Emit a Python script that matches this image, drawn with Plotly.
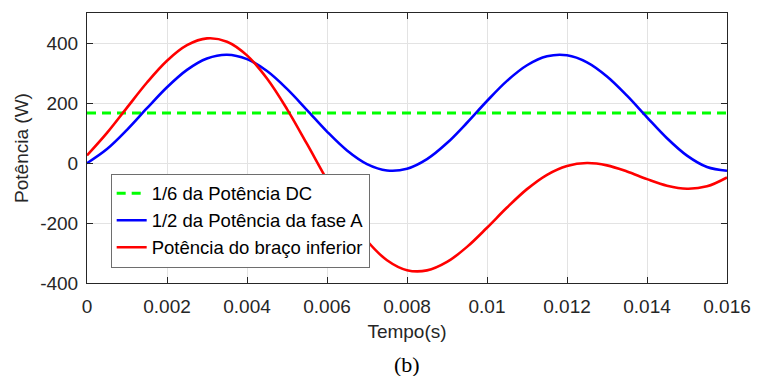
import plotly.graph_objects as go

# ---- data ----
time_s = [0.0, 0.0005, 0.001, 0.0015, 0.002, 0.0025, 0.003, 0.0035, 0.004, 0.0045,
          0.005, 0.0055, 0.006, 0.0065, 0.007, 0.0075, 0.008, 0.0085, 0.009, 0.0095,
          0.01, 0.0105, 0.011, 0.0115, 0.012, 0.0125, 0.013, 0.0135, 0.014, 0.0145,
          0.015, 0.0155, 0.016]

half_phase_power = [-0.6, 46.5, 110.6, 182.7, 252.6, 310.6, 348.5, 361.0, 346.3, 306.5,
                    247.1, 176.6, 104.8, 41.8, -3.5, -24.8, -19.2, 12.8, 66.4, 134.2,
                    206.7, 273.7, 325.8, 355.7, 359.1, 335.6, 288.5, 224.4, 152.3, 82.4,
                    24.4, -13.5, -26.0]

lower_arm_power = [25.1, 100.2, 184.5, 268.3, 340.9, 392.6, 415.3, 404.3, 358.7, 281.6,
                   179.8, 63.4, -56.3, -167.3, -259.2, -324.0, -357.2, -358.0, -329.9, -279.6,
                   -215.8, -148.5, -87.1, -39.2, -9.7, 0.0, -7.9, -28.3, -53.7, -75.5,
                   -85.7, -77.9, -48.3]

dc_time = [0.0, 0.016]
dc_sixth_power = [166.7, 166.7]

series_names = ["1/6 da Potência DC", "1/2 da Potência da fase A", "Potência do braço inferior"]

x_tick_vals = [0, 0.002, 0.004, 0.006, 0.008, 0.01, 0.012, 0.014, 0.016]
x_tick_text = ["0", "0.002", "0.004", "0.006", "0.008", "0.01", "0.012", "0.014", "0.016"]
y_tick_vals = [-400, -200, 0, 200, 400]
y_tick_text = ["-400", "-200", "0", "200", "400"]

# ---- figure ----
fig = go.Figure()
fig.add_trace(go.Scatter(x=dc_time, y=dc_sixth_power, mode="lines", name=series_names[0],
                         line=dict(color="#00ff00", width=3, dash="9px,6px")))
fig.add_trace(go.Scatter(x=time_s, y=half_phase_power, mode="lines", name=series_names[1],
                         line=dict(color="#0000ff", width=2.6, shape="spline", smoothing=1.0)))
fig.add_trace(go.Scatter(x=time_s, y=lower_arm_power, mode="lines", name=series_names[2],
                         line=dict(color="#ff0000", width=2.6, shape="spline", smoothing=1.0)))

axis_common = dict(showline=True, linecolor="#262626", linewidth=1, mirror="ticks",
                   ticks="inside", ticklen=6, tickcolor="#262626",
                   showgrid=True, gridcolor="#e3e3e3", gridwidth=1, zeroline=False,
                   tickfont=dict(family="Liberation Sans, Arial", size=19, color="#262626"))

fig.update_xaxes(range=[0, 0.016], tickvals=x_tick_vals, ticktext=x_tick_text,
                 ticklabelstandoff=6,
                 title=dict(text="Tempo(s)", font=dict(family="Liberation Sans, Arial", size=19, color="#262626"),
                            standoff=8),
                 **axis_common)
fig.update_yaxes(range=[-400, 500], tickvals=y_tick_vals, ticktext=y_tick_text,
                 ticklabelstandoff=4,
                 title=dict(text="Potência (W)", font=dict(family="Liberation Sans, Arial", size=19, color="#262626"),
                            standoff=6),
                 **axis_common)

fig.add_annotation(text="(b)", xref="paper", yref="paper", x=0.5, y=-0.30,
                   xanchor="center", yanchor="middle", showarrow=False,
                   font=dict(family="Liberation Serif, Times New Roman", size=22, color="#000000"))

fig.update_layout(
    width=763, height=376,
    margin=dict(l=87, r=28, t=13, b=93),
    paper_bgcolor="white", plot_bgcolor="white",
    showlegend=True,
    legend=dict(x=0.037, y=0.405, xanchor="left", yanchor="top",
                bgcolor="white", bordercolor="#6e6e6e", borderwidth=1,
                font=dict(family="Liberation Sans, Arial", size=18.5, color="#000000"),
                tracegroupgap=0, itemwidth=30),
)

fig.write_html("out.html")
